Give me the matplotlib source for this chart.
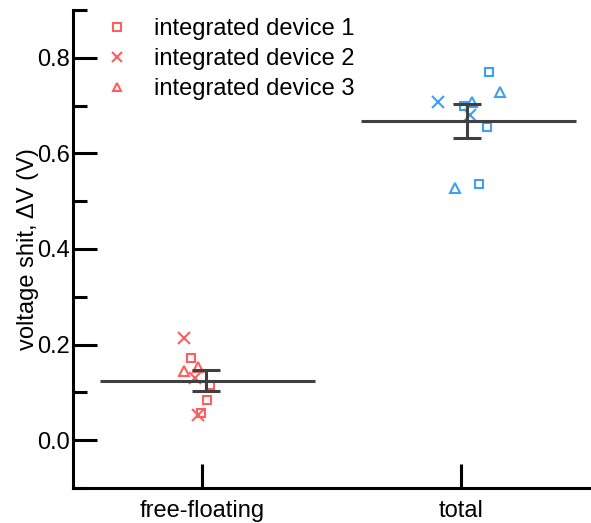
import matplotlib.pyplot as plt
from matplotlib.ticker import MultipleLocator

plt.rcParams['font.family'] = ['Liberation Sans', 'DejaVu Sans']

# categories and summary values (mean, error)
categories = ['free-floating', 'total']
means = [0.124, 0.668]
errors = [0.022, 0.036]

# individual points per device: (x position, value)
ff_dev1_x = [0.956, 1.028, 1.018, 0.996]
ff_dev1_y = [0.171, 0.115, 0.084, 0.057]
ff_dev2_x = [0.931, 0.973, 0.982]
ff_dev2_y = [0.2135, 0.129, 0.0525]
ff_dev3_x = [0.931, 0.983]
ff_dev3_y = [0.145, 0.154]

tot_dev1_x = [2.110, 2.013, 2.103, 2.069]
tot_dev1_y = [0.771, 0.698, 0.656, 0.535]
tot_dev2_x = [1.912, 2.035]
tot_dev2_y = [0.708, 0.680]
tot_dev3_x = [2.153, 2.043, 1.978]
tot_dev3_y = [0.729, 0.708, 0.528]

red = '#ff5f5f'
blue = '#3f9ff0'
dark = '#404040'

fig = plt.figure(figsize=(5.91, 5.23), dpi=100)
ax = fig.add_axes([0.1235, 0.067, 0.875, 0.914])

sq = dict(marker='s', markersize=6, markeredgewidth=1.5, markerfacecolor='none', linestyle='none')
xx = dict(marker='x', markersize=9, markeredgewidth=1.5, linestyle='none')
tri = dict(marker='^', markersize=7, markeredgewidth=1.5, markerfacecolor='none', linestyle='none')

ax.plot(ff_dev1_x, ff_dev1_y, color=red, label='integrated device 1', **sq)
ax.plot(ff_dev2_x, ff_dev2_y, color=red, label='integrated device 2', **xx)
ax.plot(ff_dev3_x, ff_dev3_y, color=red, label='integrated device 3', **tri)

ax.plot(tot_dev1_x, tot_dev1_y, color=blue, **sq)
ax.plot(tot_dev2_x, tot_dev2_y, color=blue, **xx)
ax.plot(tot_dev3_x, tot_dev3_y, color=blue, **tri)

# mean lines and error bars
centers = [1.015, 2.025]
for c, m, e in zip(centers, means, errors):
    ax.hlines(m, c - 0.41, c + 0.42, color=dark, linewidth=2.2)
    ax.errorbar(c, m, yerr=e, color=dark, linewidth=2.2, capsize=10.4,
                capthick=2.2, fmt='none')

ax.set_xlim(0.5, 2.5)
ax.set_ylim(-0.1, 0.9)
ax.set_xticks([1, 2])
ax.set_xticklabels(categories)
ax.yaxis.set_minor_locator(MultipleLocator(0.1))
ax.set_yticks([0.0, 0.2, 0.4, 0.6, 0.8])
ax.set_yticklabels(['0.0', '0.2', '0.4', '0.6', '0.8'])

ax.tick_params(axis='both', which='major', direction='in', length=17, width=2.2,
               labelsize=17)
ax.tick_params(axis='y', which='major', pad=2)
ax.tick_params(axis='x', which='major', pad=9)
ax.tick_params(axis='y', which='minor', direction='in', length=10, width=2.2)
ax.spines['top'].set_visible(False)
ax.spines['right'].set_visible(False)
ax.spines['left'].set_linewidth(2.2)
ax.spines['bottom'].set_linewidth(2.2)

ax.set_ylabel('voltage shit, \u0394V (V)', fontsize=17, labelpad=-1)

ax.legend(loc='upper left', bbox_to_anchor=(0.035, 1.012), frameon=False, fontsize=17,
          handlelength=1.0, handletextpad=1.05, labelspacing=0.33, borderaxespad=0.2,
          markerscale=0.85)

fig.savefig('out.png', dpi=100)
